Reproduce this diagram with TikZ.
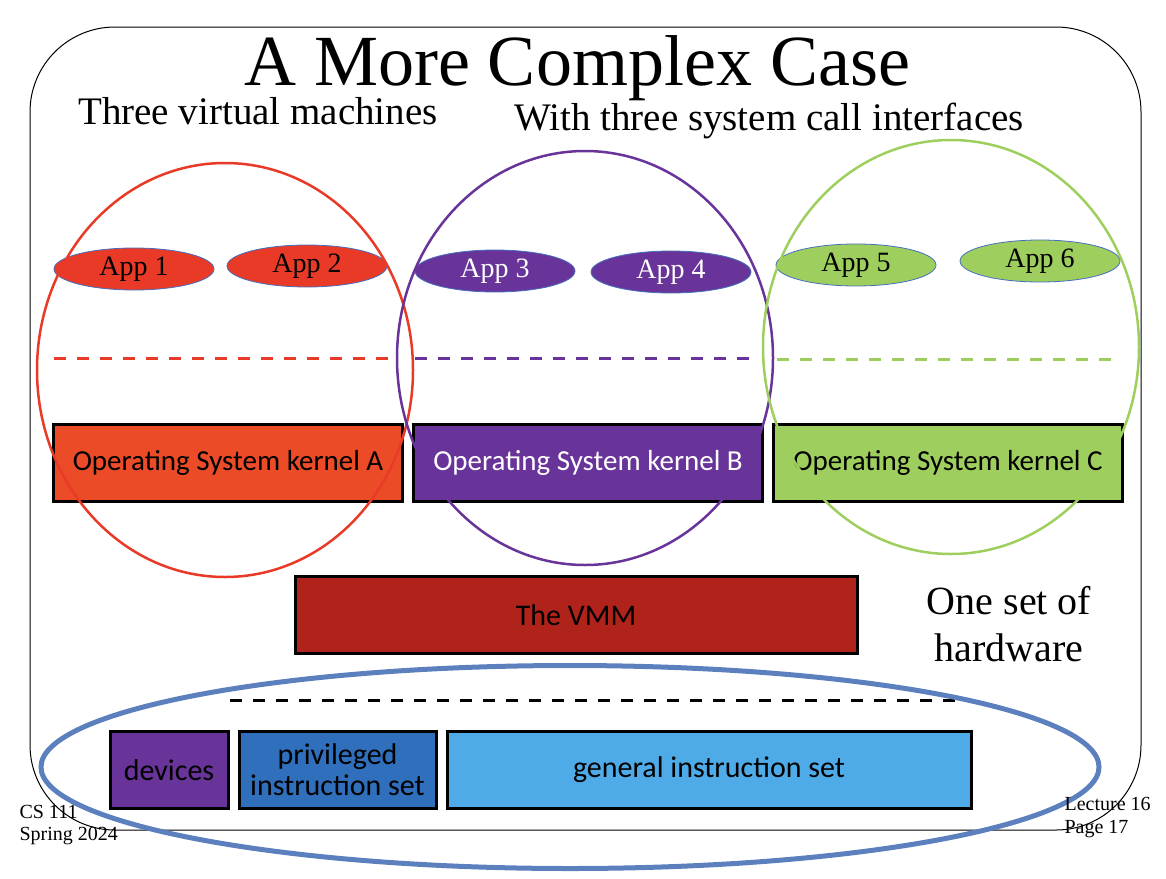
\documentclass[tikz,border=0pt]{standalone}
\usepackage{fontspec}
\setmainfont{Liberation Serif}
\newfontfamily\boxfont{Carlito}
\usetikzlibrary{positioning,shapes.geometric}

\definecolor{vmred}{RGB}{233,58,40}
\definecolor{vmpurple}{RGB}{104,52,154}
\definecolor{vmgreen}{RGB}{158,207,94}
\definecolor{kernred}{RGB}{236,75,40}
\definecolor{vmmred}{RGB}{176,35,26}
\definecolor{privblue}{RGB}{47,111,188}
\definecolor{genblue}{RGB}{78,171,231}
\definecolor{hwblue}{RGB}{92,128,190}
\definecolor{appedge}{RGB}{70,110,190}

\begin{document}
\begin{tikzpicture}[
  x=1pt, y=-1pt,
  node distance=8pt,
  heading/.style={inner sep=0pt, font=\fontsize{39}{46}\selectfont},
  vm/.style={ellipse, draw, line width=2.5pt, minimum width=376pt,
             minimum height=414pt, inner sep=0pt},
  app/.style={ellipse, draw=appedge, line width=0.8pt, minimum width=160pt,
              minimum height=42pt, inner sep=0pt, font=\fontsize{28}{30}\selectfont},
  kernel/.style={rectangle, draw=black, line width=3pt, minimum width=349pt,
                 minimum height=77pt, font=\boxfont\fontsize{29}{33}\selectfont},
  hwbox/.style={rectangle, draw=black, line width=3pt, minimum height=77pt,
                inner sep=2pt, align=center, font=\boxfont\fontsize{30}{34}\selectfont},
  sysline/.style={dash pattern=on 12pt off 11pt, line width=3pt},
]
\useasboundingbox (0,0) rectangle (1166,878);

% slide frame and headings
\draw[line width=1pt, rounded corners=85pt] (30,27) rectangle (1141,830);
\node[heading, anchor=base, font=\fontsize{72}{80}\selectfont] (title) at (577,85) {A More Complex Case};
\node[heading, anchor=base west] (vms)    at (78,124)  {Three virtual machines};
\node[heading, anchor=base west] (ifaces) at (514,130) {With three system call interfaces};

% kernels and the VMM
\node[kernel, fill=kernred]                      (kernA) at (228,463) {Operating System kernel A};
\node[kernel, fill=vmpurple, text=white, right=of kernA] (kernB) {Operating System kernel B};
\node[kernel, fill=vmgreen, right=of kernB]      (kernC) {Operating System kernel C};
\node[hwbox, fill=vmmred, minimum width=562pt]   (vmm)   at (576,615) {The VMM};
\node[align=center, font=\fontsize{40}{47}\selectfont] (onehw) at (1009,624) {One set of\\hardware};

% hardware
\draw[sysline] (230,700) -- (962,700);
\node[hwbox, fill=vmpurple, minimum width=118pt]              (dev)  at (169,770) {devices};
\node[hwbox, fill=privblue, minimum width=197pt, right=of dev] (priv) {privileged\\[-3pt]instruction set};
\node[hwbox, fill=genblue, minimum width=524pt, right=of priv] (gen)  {general instruction set};

% system call interfaces
\draw[sysline, draw=vmred]    (54,358)  -- (390,358);
\draw[sysline, draw=vmpurple] (415,358) -- (749,358);
\draw[sysline, draw=vmgreen]  (777,359) -- (1111,359);

% applications
\node[app, fill=vmred]                (app1) at (134,269)  {App 1};
\node[app, fill=vmred]                (app2) at (307,266)  {App 2};
\node[app, fill=vmpurple, text=white] (app3) at (495,271)  {App 3};
\node[app, fill=vmpurple, text=white] (app4) at (671,272)  {App 4};
\node[app, fill=vmgreen]              (app5) at (856,265)  {App 5};
\node[app, fill=vmgreen]              (app6) at (1040,261) {App 6};

% virtual machines
\node[vm, draw=vmred]    (vmA) at (225,370) {};
\node[vm, draw=vmpurple] (vmB) at (585,358) {};
\node[vm, draw=vmgreen]  (vmC) at (951,347) {};
\node[ellipse, draw=hwblue, line width=5pt, minimum width=1058pt,
      minimum height=203pt, inner sep=0pt] (hw) at (570,767) {};

% footer
\node[anchor=base west, align=left, font=\fontsize{20}{22}\selectfont] (course) at (16,840) {CS 111\\Spring 2024};
\node[anchor=base west, align=left, font=\fontsize{20}{23}\selectfont] (lect) at (1061,833) {Lecture 16\\Page 17};
\end{tikzpicture}
\end{document}
